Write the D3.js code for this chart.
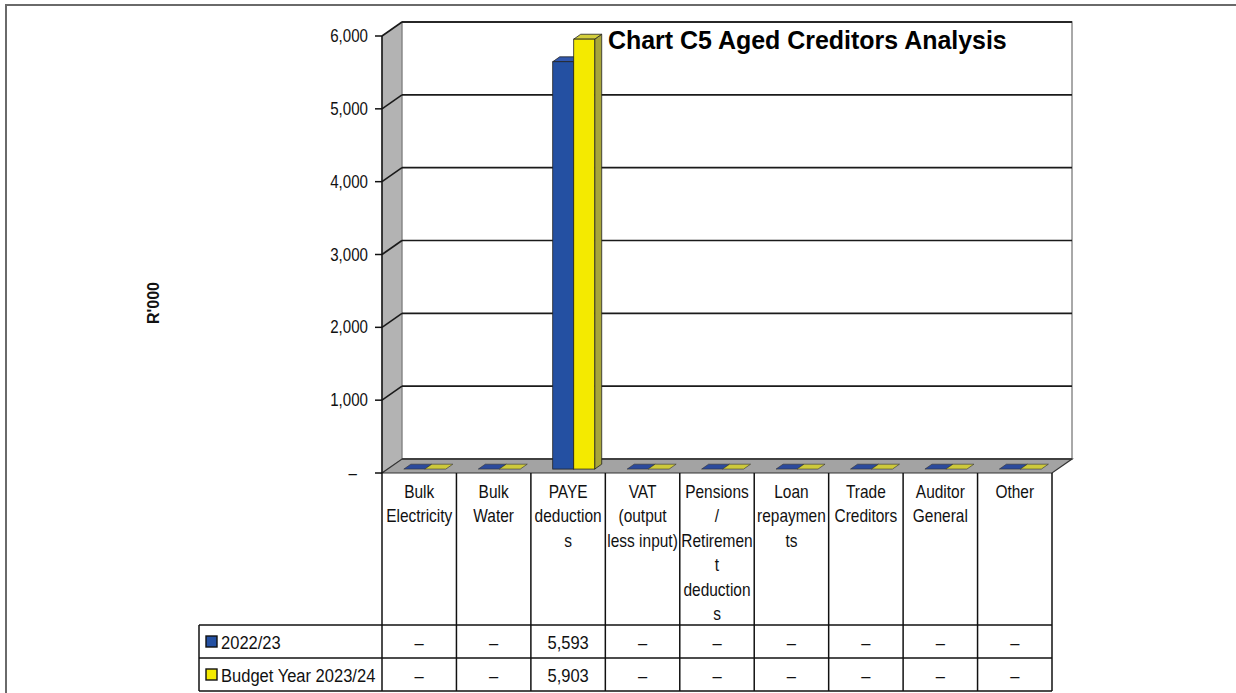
<!DOCTYPE html>
<html><head><meta charset="utf-8">
<script src="https://cdn.jsdelivr.net/npm/d3@7"></script>
<style>
html,body{margin:0;padding:0;background:#fff;}
svg{display:block;}
</style></head>
<body>
<svg id="c" width="1236" height="693"></svg>
<script>
const title = "Chart C5 Aged Creditors Analysis";
const yAxisTitle = "R'000";
const categories = ["Bulk Electricity","Bulk Water","PAYE deductions","VAT (output less input)","Pensions / Retirement deductions","Loan repayments","Trade Creditors","Auditor General","Other"];
const categoryLines = [["Bulk","Electricity"],["Bulk","Water"],["PAYE","deduction","s"],["VAT","(output","less input)"],["Pensions","/","Retiremen","t","deduction","s"],["Loan","repaymen","ts"],["Trade","Creditors"],["Auditor","General"],["Other"]];
const seriesNames = ["2022/23","Budget Year 2023/24"];
const series2022 = [0,0,5593,0,0,0,0,0,0];
const seriesBudget = [0,0,5903,0,0,0,0,0,0];
const yTicks = [0,1000,2000,3000,4000,5000,6000];

const svg = d3.select("#c");
const SANS = "'Liberation Sans',Arial,sans-serif";

function ntext(parent, px, py, str, size, anchor, weight, sx) {
  return parent.append("text")
    .attr("transform", `translate(${px},${py}) scale(${sx || 0.82},1)`)
    .attr("x",0).attr("y",0)
    .attr("text-anchor", anchor || "start")
    .attr("font-family", SANS).attr("font-size", size)
    .attr("font-weight", weight || "normal")
    .attr("fill","#111").text(str);
}

const colors = [
  {front:"#2450a2", side:"#173872", top:"#3157ad", flat:"#2b4a9c"},
  {front:"#f4ea00", side:"#a8a53a", top:"#d3ce3c", flat:"#cdc93b"}
];
const seriesVals = [series2022, seriesBudget];

// geometry
const x0 = 382, x1 = 1052;
const DX = 20, DY = -14;
const x = d3.scaleBand().domain(categories).range([x0, x1]).paddingInner(0).paddingOuter(0);
const y = d3.scaleLinear().domain([0, 6000]).range([473, 36]);
const fmt = v => v === 0 ? "–" : d3.format(",")(v);

// page border
svg.append("rect").attr("x",6).attr("y",5).attr("width",1250).attr("height",720)
  .attr("fill","none").attr("stroke","#6a6a6a").attr("stroke-width",2);

// side wall
const sideWall = [[x0,y(6000)],[x0+DX,y(6000)+DY],[x0+DX,y(0)+DY],[x0,y(0)]];
svg.append("polygon").attr("points",sideWall.map(p=>p.join(",")).join(" "))
  .attr("fill","#b3b3b3").attr("stroke","#8a8a8a").attr("stroke-width",1);

// back wall
svg.append("rect").attr("x",x0+DX).attr("y",y(6000)+DY).attr("width",x1-x0).attr("height",y(0)-y(6000))
  .attr("fill","#fff").attr("stroke","#8c8c8c").attr("stroke-width",1.5);
svg.append("line").attr("x1",x0+DX).attr("x2",x1+DX).attr("y1",y(6000)+DY).attr("y2",y(6000)+DY)
  .attr("stroke","#333").attr("stroke-width",1.5);

// floor
const floor = [[x0,y(0)],[x1,y(0)],[x1+DX,y(0)+DY],[x0+DX,y(0)+DY]];
svg.append("polygon").attr("points",floor.map(p=>p.join(",")).join(" "))
  .attr("fill","#a3a3a3").attr("stroke","#333").attr("stroke-width",1.2);

// gridlines back wall + side wall
yTicks.forEach(v=>{
  if (v === 0) return;
  svg.append("line").attr("x1",x0+DX).attr("x2",x1+DX).attr("y1",y(v)+DY).attr("y2",y(v)+DY)
    .attr("stroke","#1a1a1a").attr("stroke-width",1.6);
  svg.append("line").attr("x1",x0).attr("x2",x0+DX).attr("y1",y(v)).attr("y2",y(v)+DY)
    .attr("stroke","#1a1a1a").attr("stroke-width",1.6);
});
svg.append("line").attr("x1",x0+DX).attr("x2",x1+DX).attr("y1",y(0)+DY).attr("y2",y(0)+DY)
  .attr("stroke","#333").attr("stroke-width",1.5);

// bars
const tF = 0.28, tB = 0.63;
const bw = 21;
const bars = svg.append("g");
categories.forEach((c,i)=>{
  const cx = x(c) + x.bandwidth()/2 + DX*tF;
  seriesVals.forEach((vals,s)=>{
    const v = vals[i];
    const col = colors[s];
    const xl = cx - bw + s*bw, xr = xl + bw;
    const yb = y(0) + DY*tF, yt = y(v) + DY*tF;
    const ox = DX*(tB-tF), oy = DY*(tB-tF);
    if (v > 0) {
      bars.append("polygon").attr("points",[[xr,yt],[xr+ox,yt+oy],[xr+ox,yb+oy],[xr,yb]].map(p=>p.join(",")).join(" "))
        .attr("fill",col.side).attr("stroke","#222").attr("stroke-width",0.8);
      bars.append("polygon").attr("points",[[xl,yt],[xr,yt],[xr+ox,yt+oy],[xl+ox,yt+oy]].map(p=>p.join(",")).join(" "))
        .attr("fill",col.top).attr("stroke","#222").attr("stroke-width",0.8);
      bars.append("rect").attr("x",xl).attr("y",yt).attr("width",bw).attr("height",yb-yt)
        .attr("fill",col.front).attr("stroke","#222").attr("stroke-width",0.8);
    } else {
      bars.append("polygon").attr("points",[[xl,yb],[xr,yb],[xr+ox,yb+oy],[xl+ox,yb+oy]].map(p=>p.join(",")).join(" "))
        .attr("fill",col.flat).attr("stroke","#333").attr("stroke-width",0.6);
    }
  });
});

// front y axis
const axis = svg.append("g");
axis.append("line").attr("x1",x0).attr("x2",x0).attr("y1",y(6000)).attr("y2",y(0)).attr("stroke","#111").attr("stroke-width",1.5);
yTicks.forEach(v=>{
  axis.append("line").attr("x1",x0-7).attr("x2",x0).attr("y1",y(v)).attr("y2",y(v)).attr("stroke","#111").attr("stroke-width",1.5);
  ntext(axis, v===0 ? x0-25 : x0-14, y(v)+6, fmt(v), 18, "end", "normal", 0.84);
});

// y axis title
svg.append("text").attr("transform","translate(159,303) rotate(-90)").attr("text-anchor","middle")
  .attr("font-family",SANS).attr("font-weight","bold").attr("font-size",16).attr("fill","#111").text(yAxisTitle);

// title
ntext(svg, 608, 49, title, 26, "start", "bold", 0.96).attr("fill","#000");

// data table
const tbl = svg.append("g");
const rowTop = 625, rowH = 33, legX = 199;
const tStroke = "#111", tW = 1.5;
categories.forEach((c,i)=>{
  const cx = x(c) + x.bandwidth()/2;
  const t = tbl.append("text").attr("transform",`translate(${cx},0) scale(0.86,1)`)
    .attr("text-anchor","middle").attr("font-family",SANS).attr("font-size",18).attr("fill","#111");
  categoryLines[i].forEach((ln,k)=>{
    t.append("tspan").attr("x",0).attr("y",498 + k*24.5).text(ln);
  });
});
d3.range(categories.length+1).forEach(i=>{
  const xx = i < categories.length ? x(categories[i]) : x1;
  tbl.append("line").attr("x1",xx).attr("x2",xx).attr("y1",y(0)).attr("y2",rowTop+2*rowH)
    .attr("stroke",tStroke).attr("stroke-width",tW);
});
tbl.append("line").attr("x1",legX).attr("x2",legX).attr("y1",rowTop).attr("y2",rowTop+2*rowH).attr("stroke",tStroke).attr("stroke-width",tW);
[0,1,2].forEach(r=>{
  tbl.append("line").attr("x1",legX).attr("x2",x1).attr("y1",rowTop+r*rowH).attr("y2",rowTop+r*rowH).attr("stroke",tStroke).attr("stroke-width",tW);
});
seriesNames.forEach((nm,s)=>{
  const cy = rowTop + s*rowH + rowH/2;
  tbl.append("rect").attr("x",legX+7).attr("y",cy-5.5).attr("width",11).attr("height",11)
    .attr("fill",colors[s].front).attr("stroke","#111").attr("stroke-width",1.4);
  ntext(tbl, legX+22, cy+7, nm, 19, "start", "normal", 0.87);
  categories.forEach((c,i)=>{
    ntext(tbl, x(c)+x.bandwidth()/2, cy+7, fmt(seriesVals[s][i]), 19, "middle", "normal", 0.87);
  });
});
</script>
</body></html>
